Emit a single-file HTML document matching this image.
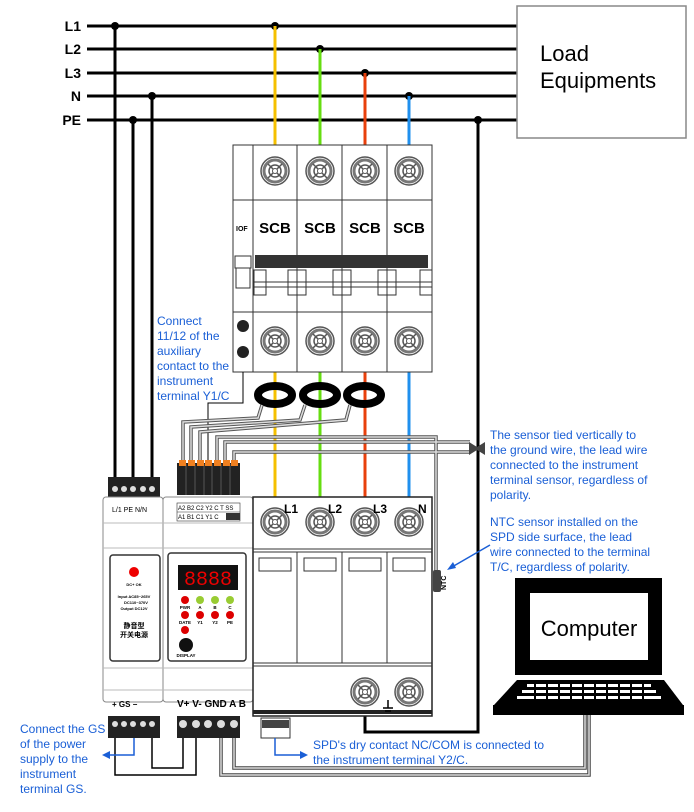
<!DOCTYPE html>
<html><head><meta charset="utf-8"><style>
html,body{margin:0;padding:0;background:#fff;}
svg{display:block;font-family:"Liberation Sans","Noto Sans CJK SC",sans-serif;}
.bl{fill:#1a5fd6;font-size:12px;}
</style></head><body>
<svg width="694" height="812" viewBox="0 0 694 812" xmlns="http://www.w3.org/2000/svg">
<defs>
<g id="scr">
<circle r="14" fill="#fff" stroke="#555" stroke-width="1.5"/>
<circle r="11" fill="none" stroke="#777" stroke-width="3"/>
<circle r="6" fill="none" stroke="#555" stroke-width="1.5"/>
<path d="M-7 -7L7 7M-7 7L7 -7" stroke="#555" stroke-width="1.5"/>
<circle r="2.5" fill="#fff" stroke="#555"/>
</g>
</defs>
<g font-weight="bold" font-size="14" text-anchor="end">
<text x="81" y="31">L1</text><text x="81" y="54">L2</text><text x="81" y="78">L3</text><text x="81" y="101">N</text><text x="81" y="125">PE</text>
</g>
<g stroke="#000" stroke-width="3">
<line x1="87" y1="26" x2="517" y2="26"/><line x1="87" y1="49" x2="517" y2="49"/><line x1="87" y1="73" x2="517" y2="73"/><line x1="87" y1="96" x2="517" y2="96"/><line x1="87" y1="120" x2="517" y2="120"/>
<line x1="115" y1="26" x2="115" y2="480"/><line x1="133" y1="120" x2="133" y2="480"/><line x1="152" y1="96" x2="152" y2="480"/>
<polyline fill="none" points="478,120 478,732 365,732 365,716"/>
</g>
<g fill="#000"><circle cx="115" cy="26" r="4"/><circle cx="275" cy="26" r="4"/><circle cx="320" cy="49" r="4"/><circle cx="365" cy="73" r="4"/><circle cx="152" cy="96" r="4"/><circle cx="409" cy="96" r="4"/><circle cx="133" cy="120" r="4"/><circle cx="478" cy="120" r="4"/></g>
<rect x="517" y="6" width="169" height="132" fill="#fff" stroke="#888" stroke-width="1.5"/>
<text x="540" y="61" font-size="22">Load</text><text x="540" y="88" font-size="22">Equipments</text>
<g stroke-width="3">
<line x1="275" y1="26" x2="275" y2="497" stroke="#f5c000"/>
<line x1="320" y1="49" x2="320" y2="497" stroke="#66dd11"/>
<line x1="365" y1="73" x2="365" y2="497" stroke="#e8400c"/>
<line x1="409" y1="96" x2="409" y2="497" stroke="#2090ee"/>
</g>
<rect x="233" y="145" width="199" height="227" fill="#fff" stroke="#333"/>
<g stroke="#333" fill="none">
<line x1="253" y1="145" x2="253" y2="372"/><line x1="297" y1="145" x2="297" y2="372"/><line x1="342" y1="145" x2="342" y2="372"/><line x1="387" y1="145" x2="387" y2="372"/>
<line x1="233" y1="200" x2="432" y2="200"/><line x1="233" y1="312" x2="432" y2="312"/>
<rect x="235" y="256" width="16" height="12"/><rect x="236" y="268" width="14" height="20"/>
<line x1="253" y1="282" x2="432" y2="282"/><line x1="253" y1="287" x2="432" y2="287"/>
<rect x="254" y="270" width="12" height="25"/><rect x="288" y="270" width="18" height="25"/><rect x="333" y="270" width="18" height="25"/><rect x="378" y="270" width="18" height="25"/><rect x="420" y="270" width="12" height="25"/>
</g>
<rect x="255" y="255" width="173" height="13" fill="#333"/>
<text x="236" y="231" font-size="7" font-weight="bold">IOF</text>
<g font-size="15" font-weight="bold" text-anchor="middle"><text x="275" y="233">SCB</text><text x="320" y="233">SCB</text><text x="365" y="233">SCB</text><text x="409" y="233">SCB</text></g>
<use href="#scr" x="275" y="171"/><use href="#scr" x="320" y="171"/><use href="#scr" x="365" y="171"/><use href="#scr" x="409" y="171"/>
<use href="#scr" x="275" y="341"/><use href="#scr" x="320" y="341"/><use href="#scr" x="365" y="341"/><use href="#scr" x="409" y="341"/>
<circle cx="243" cy="326" r="6" fill="#222"/><circle cx="243" cy="352" r="6" fill="#222"/>
<g class="bl"><text x="157" y="325">Connect</text><text x="157" y="340">11/12 of the</text><text x="157" y="355">auxiliary</text><text x="157" y="370">contact to the</text><text x="157" y="385">instrument</text><text x="157" y="400">terminal Y1/C</text></g>
<polyline points="243,372 243,403 208,403 208,462" fill="none" stroke="#000" stroke-width="1"/>
<g fill="none" stroke="#000" stroke-width="8"><ellipse cx="275" cy="395" rx="17" ry="9"/><ellipse cx="320" cy="395" rx="17" ry="9"/><ellipse cx="364" cy="395" rx="17" ry="9"/></g>
<g fill="none" stroke="#555" stroke-width="3.5">
<polyline points="183,462 183,422 258,418 262,405"/><polyline points="191,462 191,427 300,420 305,405"/><polyline points="200,462 200,432 346,420 350,405"/>
<polyline points="217,462 217,437 436,437 436,575"/><polyline points="225,462 225,442 470,442"/><polyline points="234,462 234,452 470,452"/>
</g>
<g fill="none" stroke="#ddd" stroke-width="1.5">
<polyline points="183,462 183,422 258,418 262,405"/><polyline points="191,462 191,427 300,420 305,405"/><polyline points="200,462 200,432 346,420 350,405"/>
<polyline points="217,462 217,437 436,437 436,575"/><polyline points="225,462 225,442 470,442"/><polyline points="234,462 234,452 470,452"/>
</g>
<path d="M469 442 L477 447 L485 442 L485 455 L477 450 L469 455Z" fill="#444"/>
<rect x="177" y="463" width="63" height="32" fill="#222"/>
<g stroke="#555"><path d="M186 464v31M195 464v31M204 464v31M212 464v31M221 464v31M230 464v31"/></g>
<g fill="#f08020"><rect x="179" y="460" width="7" height="6"/><rect x="188" y="460" width="7" height="6"/><rect x="197" y="460" width="7" height="6"/><rect x="205" y="460" width="7" height="6"/><rect x="214" y="460" width="7" height="6"/><rect x="223" y="460" width="7" height="6"/><rect x="231" y="460" width="7" height="6"/></g>
<rect x="108" y="477" width="52" height="20" fill="#222"/>
<g fill="#ddd"><circle cx="115" cy="489" r="3"/><circle cx="124" cy="489" r="3"/><circle cx="133" cy="489" r="3"/><circle cx="143" cy="489" r="3"/><circle cx="152" cy="489" r="3"/></g>
<rect x="103" y="497" width="60" height="205" rx="3" fill="#fff" stroke="#888"/>
<rect x="163" y="497" width="90" height="205" rx="3" fill="#fff" stroke="#888"/>
<g stroke="#bbb"><line x1="103" y1="523" x2="253" y2="523"/><line x1="103" y1="548" x2="253" y2="548"/><line x1="103" y1="668" x2="253" y2="668"/><line x1="103" y1="690" x2="253" y2="690"/></g>
<text x="112" y="512" font-size="7">L/1  PE  N/N</text>
<g font-size="6" stroke="#333" stroke-width="0.6" fill="none"><rect x="177" y="503" width="63" height="18"/><line x1="177" y1="512" x2="240" y2="512"/></g>
<text x="178" y="510" font-size="6">A2 B2 C2 Y2 C  T  SS</text><text x="178" y="519" font-size="6">A1 B1 C1 Y1 C</text>
<rect x="226" y="513" width="14" height="7" fill="#333"/>
<rect x="110" y="555" width="50" height="106" rx="3" fill="#fff" stroke="#333" stroke-width="1.5"/>
<circle cx="134" cy="572" r="5" fill="#e00"/>
<g font-size="4" font-weight="bold" text-anchor="middle"><text x="134" y="586">DC+ OK</text><text x="134" y="598">Input AC85~265V</text><text x="136" y="604">DC110~370V</text><text x="134" y="610">Output DC12V</text></g>
<g font-size="7" font-weight="bold" text-anchor="middle"><text x="134" y="628">静音型</text><text x="134" y="637">开关电源</text></g>
<rect x="168" y="553" width="78" height="108" rx="3" fill="#fff" stroke="#333" stroke-width="1.5"/>
<rect x="178" y="565" width="60" height="25" fill="#111"/>
<text x="208" y="585" font-size="20" fill="#e00" text-anchor="middle" font-family="Liberation Mono,monospace">8888</text>
<g fill="#d00"><circle cx="185" cy="600" r="4"/><circle cx="185" cy="615" r="4"/><circle cx="200" cy="615" r="4"/><circle cx="215" cy="615" r="4"/><circle cx="230" cy="615" r="4"/><circle cx="185" cy="630" r="4"/></g>
<g fill="#9c3"><circle cx="200" cy="600" r="4"/><circle cx="215" cy="600" r="4"/><circle cx="230" cy="600" r="4"/></g>
<circle cx="186" cy="645" r="7" fill="#111"/>
<g font-size="4.5" font-weight="bold" text-anchor="middle"><text x="185" y="609">PWR</text><text x="200" y="609">A</text><text x="215" y="609">B</text><text x="230" y="609">C</text><text x="185" y="624">DATE</text><text x="200" y="624">Y1</text><text x="215" y="624">Y2</text><text x="230" y="624">PE</text><text x="186" y="657">DISPLAY</text></g>
<text x="112" y="707" font-size="8" font-weight="bold">+   GS   −</text>
<text x="177" y="707" font-size="10" font-weight="bold">V+ V- GND A  B</text>
<rect x="108" y="716" width="52" height="22" fill="#222"/>
<rect x="177" y="716" width="63" height="22" fill="#222"/>
<g fill="#ddd"><circle cx="115" cy="724" r="3"/><circle cx="124" cy="724" r="3"/><circle cx="133" cy="724" r="3"/><circle cx="143" cy="724" r="3"/><circle cx="152" cy="724" r="3"/>
<circle cx="183" cy="724" r="4"/><circle cx="196" cy="724" r="4"/><circle cx="208" cy="724" r="4"/><circle cx="221" cy="724" r="4"/><circle cx="234" cy="724" r="4"/></g>
<rect x="253" y="497" width="179" height="219" fill="#fff" stroke="#222" stroke-width="1.5"/>
<g stroke="#333" fill="none"><line x1="253" y1="549" x2="432" y2="549"/><line x1="253" y1="552" x2="432" y2="552"/><line x1="253" y1="663" x2="432" y2="663"/><line x1="253" y1="666" x2="432" y2="666"/>
<line x1="297" y1="552" x2="297" y2="663"/><line x1="342" y1="552" x2="342" y2="663"/><line x1="387" y1="552" x2="387" y2="663"/>
<rect x="259" y="558" width="32" height="13"/><rect x="304" y="558" width="32" height="13"/><rect x="349" y="558" width="32" height="13"/><rect x="393" y="558" width="32" height="13"/></g>
<rect x="253" y="710" width="179" height="4" fill="#222"/>
<use href="#scr" x="275" y="522"/><use href="#scr" x="320" y="522"/><use href="#scr" x="365" y="522"/><use href="#scr" x="409" y="522"/>
<use href="#scr" x="365" y="692"/><use href="#scr" x="409" y="692"/>
<g font-size="12" font-weight="bold"><text x="284" y="513">L1</text><text x="328" y="513">L2</text><text x="373" y="513">L3</text><text x="418" y="513">N</text></g>
<path d="M388 700v8M383 708h10M385 711h6" stroke="#000" stroke-width="1.5"/>
<rect x="433" y="570" width="8" height="22" rx="2" fill="#444"/>
<text x="446" y="590" font-size="7" font-weight="bold" transform="rotate(-90 446 590)">NTC</text>
<rect x="261" y="718" width="29" height="20" fill="#fff" stroke="#333"/>
<rect x="262" y="720" width="27" height="8" fill="#444"/>
<g fill="none" stroke="#000" stroke-width="1.5">
<polyline points="115,738 115,775 196,775 196,738"/><polyline points="152,738 152,768 183,768 183,738"/>
</g>
<g fill="none" stroke="#444" stroke-width="3.5"><polyline points="221,738 221,775 589,775 589,715"/><polyline points="234,738 234,768 585,768 585,715"/></g>
<g fill="none" stroke="#ddd" stroke-width="1.5"><polyline points="221,738 221,775 589,775 589,715"/><polyline points="234,738 234,768 585,768 585,715"/></g>
<g stroke="#1a5fd6" stroke-width="1.5" fill="none"><polyline points="134,738 134,755 108,755"/><polyline points="275,738 275,755 302,755"/><line x1="490" y1="545" x2="452" y2="567"/></g>
<g fill="#1a5fd6"><path d="M102 755l8-4v8z"/><path d="M308 755l-8-4v8z"/><path d="M447 570l6-8 3 6z"/></g>
<g class="bl"><text x="20" y="733">Connect the GS</text><text x="20" y="748">of the power</text><text x="20" y="763">supply to the</text><text x="20" y="778">instrument</text><text x="20" y="793">terminal GS.</text>
<text x="313" y="749">SPD's dry contact NC/COM is connected to</text><text x="313" y="764">the instrument terminal Y2/C.</text>
<text x="490" y="439">The sensor tied vertically to</text><text x="490" y="454">the ground wire, the lead wire</text><text x="490" y="469">connected to the instrument</text><text x="490" y="484">terminal sensor, regardless of</text><text x="490" y="499">polarity.</text>
<text x="490" y="526">NTC sensor installed on the</text><text x="490" y="541">SPD side surface, the lead</text><text x="490" y="556">wire connected to the terminal</text><text x="490" y="571">T/C, regardless of polarity.</text></g>
<rect x="515" y="578" width="147" height="97" fill="#000"/>
<rect x="530" y="593" width="118" height="67" fill="#fff"/>
<text x="589" y="636" font-size="22" text-anchor="middle">Computer</text>
<path d="M517 680H664L683 705H494Z" fill="#000"/>
<rect x="493" y="705" width="191" height="10" fill="#000"/>
<g fill="#fff"><rect x="527" y="684" width="124" height="3"/><rect x="522" y="690" width="134" height="3"/><rect x="517" y="696" width="144" height="3"/></g>
<g stroke="#000" stroke-width="2"><path d="M535 683v17M547 683v17M559 683v17M571 683v17M583 683v17M595 683v17M607 683v17M619 683v17M631 683v17M643 683v17"/></g>
</svg>
</body></html>
